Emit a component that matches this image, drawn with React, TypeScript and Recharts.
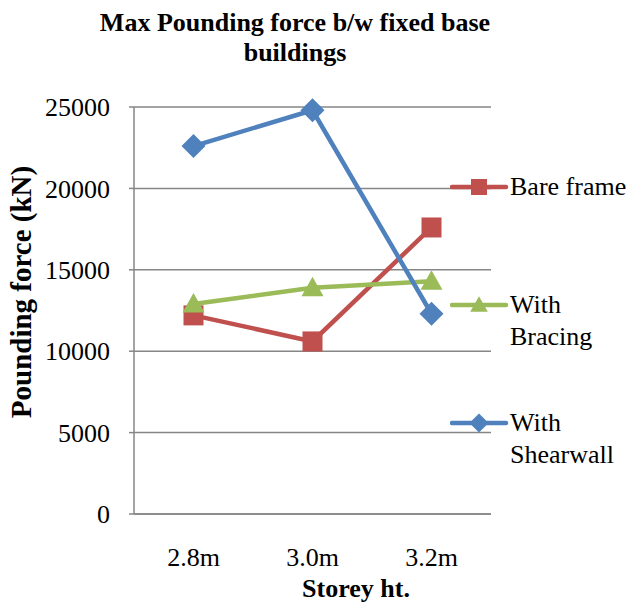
import { CartesianGrid, Label, Line, LineChart, XAxis, YAxis } from "recharts";

const storeyHeights = ["2.8m", "3.0m", "3.2m"];
const bareFrame = [12200, 10600, 17600];
const withBracing = [12900, 13900, 14300];
const withShearwall = [22600, 24800, 12300];
const yTicks = [0, 5000, 10000, 15000, 20000, 25000];

const FONT = "'Liberation Serif', 'Times New Roman', serif";
const AXIS_GRAY = "#868686";

type Shape = "square" | "triangle" | "diamond";

const series: { key: string; label: string[]; color: string; shape: Shape; legendY: number }[] = [
  { key: "bare", label: ["Bare frame"], color: "#C0504D", shape: "square", legendY: 187 },
  { key: "bracing", label: ["With", "Bracing"], color: "#9BBB59", shape: "triangle", legendY: 305 },
  { key: "shear", label: ["With", "Shearwall"], color: "#4F81BD", shape: "diamond", legendY: 423 },
];

const data = storeyHeights.map((h, i) => ({
  h,
  bare: bareFrame[i],
  bracing: withBracing[i],
  shear: withShearwall[i],
}));

function markerShape(shape: Shape, cx: number, cy: number, r: number, color: string) {
  if (shape === "square") {
    return <rect x={cx - r} y={cy - r} width={r * 2} height={r * 2} fill={color} />;
  }
  if (shape === "triangle") {
    const pts = `${cx},${cy - r * 1.1} ${cx + r * 1.1},${cy + r * 0.85} ${cx - r * 1.1},${cy + r * 0.85}`;
    return <polygon points={pts} fill={color} />;
  }
  const d = r * 1.2;
  const pts = `${cx},${cy - d} ${cx + d},${cy} ${cx},${cy + d} ${cx - d},${cy}`;
  return <polygon points={pts} fill={color} />;
}

function LegendBlock() {
  return (
    <div style={{ position: "absolute", left: 0, top: 0 }}>
      {series.map((s) => (
        <div key={s.key}>
          <svg
            width={60}
            height={24}
            style={{ position: "absolute", left: 450, top: s.legendY - 12 }}
          >
            <line x1={2} y1={12} x2={56} y2={12} stroke={s.color} strokeWidth={4.5} strokeLinecap="round" />
            {markerShape(s.shape, 29, 12, 8, s.color)}
          </svg>
          <div
            style={{
              position: "absolute",
              left: 510,
              top: s.legendY - 16,
              fontSize: 26,
              lineHeight: "32px",
              whiteSpace: "nowrap",
              color: "#000",
            }}
          >
            {s.label.map((t) => (
              <div key={t}>{t}</div>
            ))}
          </div>
        </div>
      ))}
    </div>
  );
}

export default function App() {
  return (
    <div
      style={{
        position: "absolute",
        left: 0,
        top: 0,
        width: 631,
        height: 602,
        background: "#fff",
        fontFamily: FONT,
      }}
    >
      <div
        style={{
          position: "absolute",
          left: 0,
          top: 8,
          width: 590,
          textAlign: "center",
          fontSize: 26,
          fontWeight: "bold",
          lineHeight: "30px",
        }}
      >
        Max Pounding force b/w fixed base
        <br />
        buildings
      </div>

      <LineChart
        width={631}
        height={602}
        data={data}
        margin={{ top: 107, right: 140, bottom: 38, left: 0 }}
        style={{ position: "absolute", left: 0, top: 0 }}
      >
        <CartesianGrid vertical={false} stroke={AXIS_GRAY} strokeWidth={1.5} />
        <XAxis
          dataKey="h"
          scale="band"
          height={50}
          axisLine={{ stroke: AXIS_GRAY, strokeWidth: 1.5 }}
          tickLine={false}
          tickSize={0}
          tickMargin={34}
          tick={{ fill: "#000", fontSize: 26, fontFamily: FONT }}
        >
          <Label
            content={() => (
              <text
                x={356}
                y={588}
                textAnchor="middle"
                dominantBaseline="central"
                fontSize={26}
                fontWeight="bold"
                fontFamily={FONT}
                fill="#000"
              >
                Storey ht.
              </text>
            )}
          />
        </XAxis>
        <YAxis
          width={134}
          domain={[0, 25000]}
          ticks={yTicks}
          interval={0}
          axisLine={{ stroke: AXIS_GRAY, strokeWidth: 1.5 }}
          tickLine={{ stroke: AXIS_GRAY, strokeWidth: 1.5 }}
          tickSize={5}
          tickMargin={19}
          tick={{ fill: "#000", fontSize: 26, fontFamily: FONT }}
        >
          <Label
            content={() => (
              <text
                x={21}
                y={292}
                transform="rotate(-90, 21, 292)"
                textAnchor="middle"
                dominantBaseline="central"
                fontSize={29}
                fontWeight="bold"
                fontFamily={FONT}
                fill="#000"
              >
                Pounding force (kN)
              </text>
            )}
          />
        </YAxis>
        {series.map((s) => (
          <Line
            key={s.key}
            dataKey={s.key}
            stroke={s.color}
            strokeWidth={4.5}
            isAnimationActive={false}
            dot={(p: any) => (
              <g key={`${s.key}-${p.index}`}>{markerShape(s.shape, p.cx, p.cy, 10, s.color)}</g>
            )}
            activeDot={false}
          />
        ))}
      </LineChart>

      <LegendBlock />
    </div>
  );
}
